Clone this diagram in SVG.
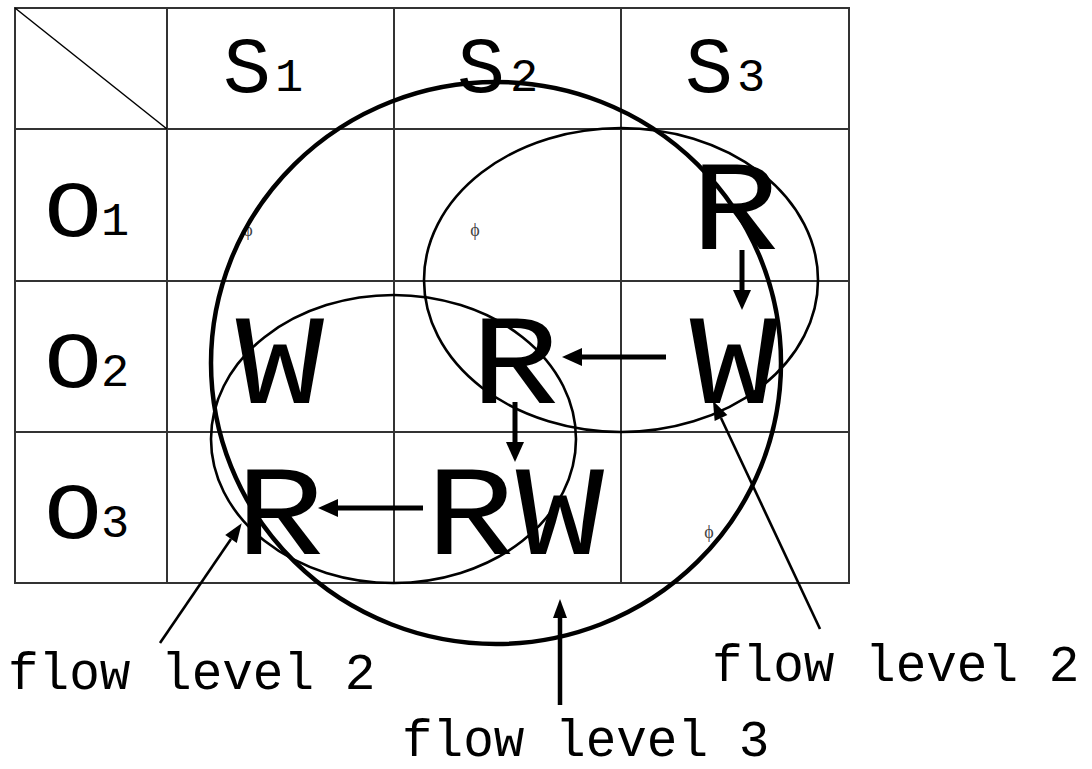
<svg xmlns="http://www.w3.org/2000/svg" width="1092" height="769" viewBox="0 0 1092 769">
<style>
.grid{stroke:#333;stroke-width:2;fill:none}
.hdr{font-family:"Liberation Mono",monospace;font-size:80px;fill:#000;text-anchor:middle}
.sub{font-family:"Liberation Mono",monospace;font-size:47px;fill:#000;text-anchor:middle}
.big{font-family:"Liberation Mono",monospace;font-size:128px;fill:#000;text-anchor:middle}
.phi{font-family:"Liberation Serif",serif;font-size:18px;fill:#444;text-anchor:middle}
.lbl{font-family:"Liberation Mono",monospace;font-size:51px;fill:#000}
.ell{fill:none;stroke:#000;stroke-width:2.6}
.ellb{fill:none;stroke:#000;stroke-width:4.5}
.arr{stroke:#000;stroke-width:5;fill:none}
.larr{stroke:#000;stroke-width:2.6;fill:none}
.marr{stroke:#000;stroke-width:4.5;fill:none}
</style>
<defs>
<marker id="hb" markerUnits="userSpaceOnUse" markerWidth="24" markerHeight="22" refX="0" refY="9" orient="auto" overflow="visible"><path d="M0,0 L20,9 L0,18 z" fill="#000"/></marker>
<marker id="hs" markerUnits="userSpaceOnUse" markerWidth="24" markerHeight="18" refX="0" refY="7" orient="auto" overflow="visible"><path d="M0,0 L19,7 L0,14 z" fill="#000"/></marker>
</defs>
<rect width="1092" height="769" fill="#fff"/>
<g id="table">
<rect class="grid" x="15" y="8" width="834" height="575"/>
<line class="grid" x1="167" y1="8" x2="167" y2="583"/>
<line class="grid" x1="394" y1="8" x2="394" y2="583"/>
<line class="grid" x1="621" y1="8" x2="621" y2="583"/>
<line class="grid" x1="15" y1="129" x2="849" y2="129"/>
<line class="grid" x1="15" y1="281" x2="849" y2="281"/>
<line class="grid" x1="15" y1="432" x2="849" y2="432"/>
<line x1="15" y1="8" x2="167" y2="129" stroke="#000" stroke-width="1.5"/>
</g>
<g id="hdr-s1"><text class="hdr" x="247" y="92">S</text><text class="sub" x="289" y="91">1</text></g>
<g id="hdr-s2"><text class="hdr" x="481" y="92">S</text><text class="sub" x="524" y="91">2</text></g>
<g id="hdr-s3"><text class="hdr" x="709" y="92">S</text><text class="sub" x="751" y="91">3</text></g>
<g id="hdr-o1"><text class="hdr" transform="translate(73,236) scale(1.2,1)">O</text><text class="sub" x="115" y="235">1</text></g>
<g id="hdr-o2"><text class="hdr" transform="translate(73,387) scale(1.2,1)">O</text><text class="sub" x="115" y="386">2</text></g>
<g id="hdr-o3"><text class="hdr" transform="translate(73,538) scale(1.2,1)">O</text><text class="sub" x="115" y="537">3</text></g>
<g id="phi-s1o1"><text class="phi" x="248" y="236">ϕ</text></g>
<g id="phi-s2o1"><text class="phi" x="475" y="236">ϕ</text></g>
<g id="phi-s3o3"><text class="phi" x="709" y="538">ϕ</text></g>
<g id="flow-level3-region"><ellipse class="ellb" cx="496" cy="363" rx="285" ry="281"/></g>
<g id="flow-level2-upper"><ellipse class="ell" cx="621" cy="280" rx="197" ry="152"/></g>
<g id="flow-level2-lower"><ellipse class="ell" cx="393.5" cy="439" rx="182.5" ry="144"/></g>
<g id="r-s3o1"><text class="big" transform="translate(735,249) scale(1.15,1)">R</text></g>
<g id="w-s3o2"><text class="big" transform="translate(734,403) scale(1.15,1)">W</text></g>
<g id="r-s2o2"><text class="big" transform="translate(515,403) scale(1.15,1)">R</text></g>
<g id="w-s1o2"><text class="big" transform="translate(280,403) scale(1.15,1)">W</text></g>
<g id="r-s1o3"><text class="big" transform="translate(280,554) scale(1.15,1)">R</text></g>
<g id="rw-s2o3"><text class="big" x="-39 39" y="0" transform="translate(515,554) scale(1.15,1)">RW</text></g>
<g id="label-left"><text class="lbl" x="8" y="689">flow level 2</text></g>
<g id="label-right"><text class="lbl" x="712" y="681">flow level 2</text></g>
<g id="label-bottom"><text class="lbl" x="402" y="756">flow level 3</text></g>
<g id="connectors">
<line class="arr" x1="742" y1="250" x2="742" y2="290" marker-end="url(#hb)"/>
<line class="arr" x1="666" y1="357" x2="582" y2="357" marker-end="url(#hb)"/>
<line class="arr" x1="515" y1="402" x2="515" y2="442" marker-end="url(#hb)"/>
<line class="arr" x1="423" y1="508" x2="338" y2="508" marker-end="url(#hb)"/>
<line class="larr" x1="160" y1="643" x2="231" y2="539" marker-end="url(#hs)"/>
<line class="larr" x1="820" y1="629" x2="721" y2="418" marker-end="url(#hs)"/>
<line class="marr" x1="560" y1="705" x2="560" y2="618" marker-end="url(#hs)"/>
</g>
</svg>
